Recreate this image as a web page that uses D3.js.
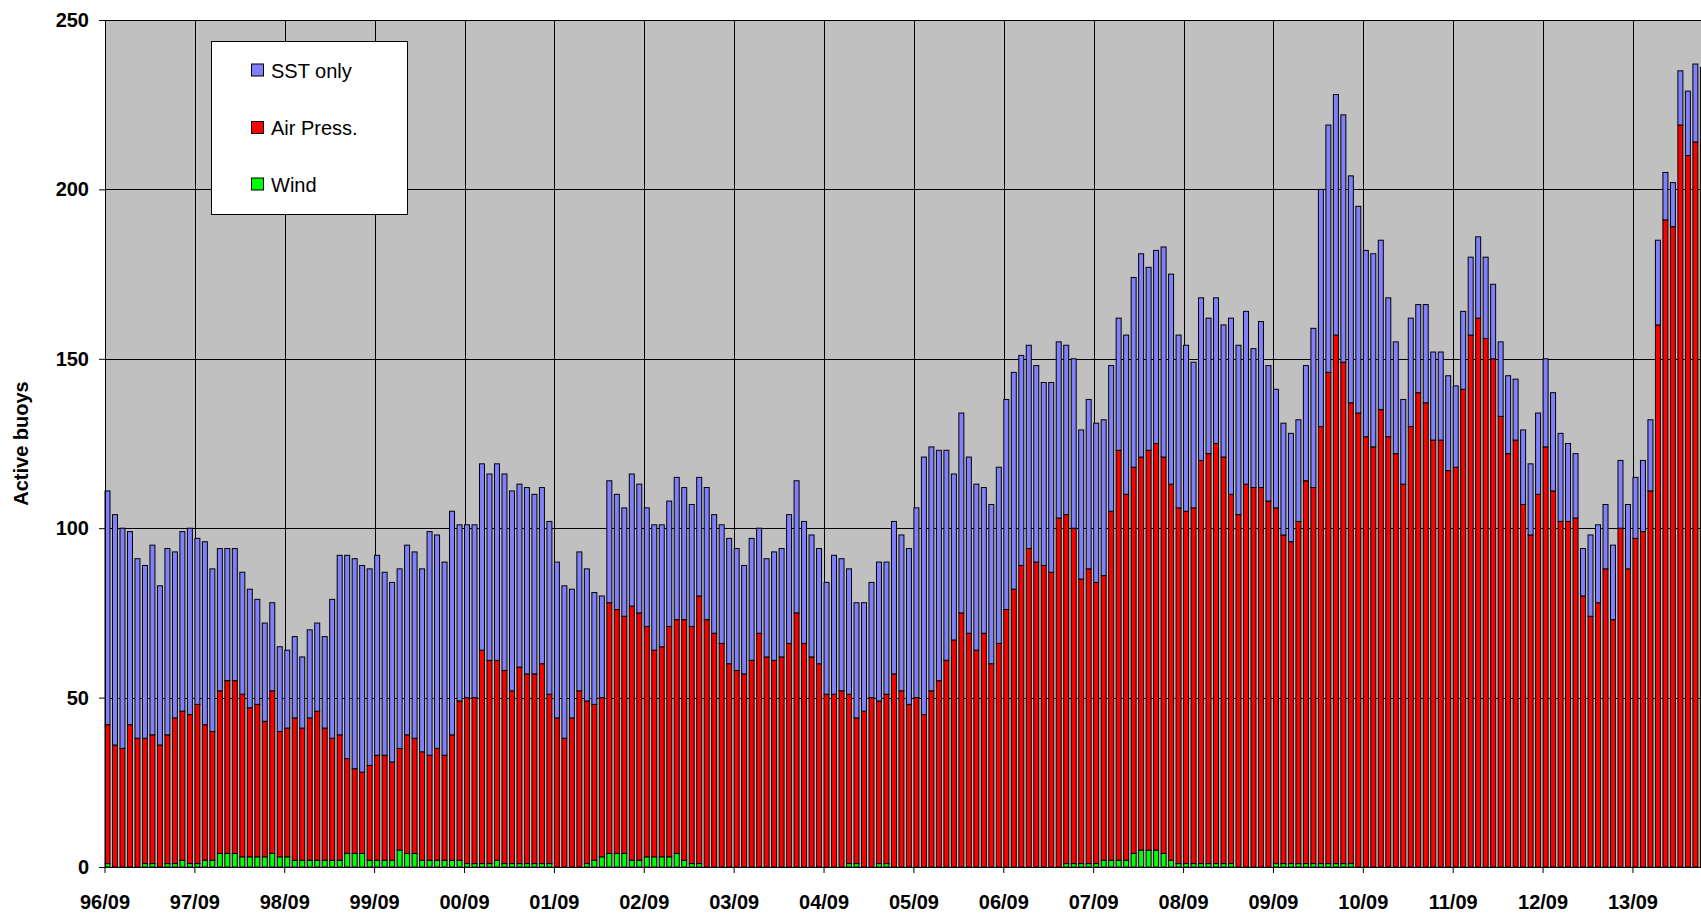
<!DOCTYPE html>
<html>
<head>
<meta charset="utf-8">
<script src="https://cdnjs.cloudflare.com/ajax/libs/d3/7.8.5/d3.min.js"></script>
<style>
  body { margin: 0; background: #fff; }
  .chart text { font-family: Arial, "Liberation Sans", sans-serif; fill: #000; }
  .axisLabel { font-weight: bold; font-size: 20px; }
</style>
</head>
<body>
<div class="chart"></div>
<script>
// Active buoys per month, 96/09 onwards

// total active buoys (top of the blue bar)
var total = [
  111,104,100,99,91,89,95,83,94,93,99,100,
  97,96,88,94,94,94,87,82,79,72,78,65,
  64,68,62,70,72,68,79,92,92,91,89,88,
  92,87,84,88,95,93,88,99,98,90,105,101,
  101,101,119,116,119,116,111,113,112,110,112,102,
  90,83,82,93,88,81,80,114,110,106,116,113,
  106,101,101,108,115,112,107,115,112,104,101,97,
  94,89,97,100,91,93,94,104,114,102,98,94,
  84,92,91,88,78,78,84,90,90,102,98,94,
  106,121,124,123,123,116,134,121,113,112,107,118,
  138,146,151,154,148,143,143,155,154,150,129,138,
  131,132,148,162,157,174,181,177,182,183,175,157,
  154,149,168,162,168,160,162,154,164,153,161,148,
  141,131,128,132,148,159,200,219,228,222,204,195,
  182,181,185,168,155,138,162,166,166,152,152,145,
  142,164,180,186,180,172,155,145,144,129,119,134,
  150,140,128,125,122,94,98,101,107,95,120,107,
  115,120,132,185,205,202,235,229,237,236
];

// buoys reporting air pressure (top of the red bar)
var pressure = [
  42,36,35,42,38,38,39,36,39,44,46,45,
  48,42,40,52,55,55,51,47,48,43,52,40,
  41,44,41,44,46,41,38,39,32,29,28,30,
  33,33,31,35,39,38,34,33,35,33,39,49,
  50,50,64,61,61,58,52,59,57,57,60,51,
  44,38,44,52,49,48,50,78,76,74,77,75,
  71,64,65,71,73,73,71,80,73,69,66,60,
  58,57,61,69,62,61,62,66,75,66,62,60,
  51,51,52,51,44,46,50,49,51,57,52,48,
  50,45,52,55,61,67,75,69,64,69,60,66,
  76,82,89,94,90,89,87,103,104,100,85,88,
  84,86,105,123,110,118,121,123,125,121,113,106,
  105,106,120,122,125,121,110,104,113,112,112,108,
  106,98,96,102,114,112,130,146,157,149,137,134,
  127,124,135,127,122,113,130,140,137,126,126,117,
  118,141,157,162,156,150,133,122,126,107,98,110,
  124,111,102,102,103,80,74,78,88,73,100,88,
  97,99,111,160,191,189,219,210,214,213
];

// buoys reporting wind (green)
var wind = [
  1,0,0,0,0,1,1,0,1,1,2,1,
  1,2,2,4,4,4,3,3,3,3,4,3,
  3,2,2,2,2,2,2,2,4,4,4,2,
  2,2,2,5,4,4,2,2,2,2,2,2,
  1,1,1,1,2,1,1,1,1,1,1,1,
  0,0,0,0,1,2,3,4,4,4,2,2,
  3,3,3,3,4,2,1,1,0,0,0,0,
  0,0,0,0,0,0,0,0,0,0,0,0,
  0,0,0,1,1,0,0,1,1,0,0,0,
  0,0,0,0,0,0,0,0,0,0,0,0,
  0,0,0,0,0,0,0,0,1,1,1,1,
  1,2,2,2,2,4,5,5,5,4,2,1,
  1,1,1,1,1,1,1,0,0,0,0,0,
  1,1,1,1,1,1,1,1,1,1,1,0,
  0,0,0,0,0,0,0,0,0,0,0,0,
  0,0,0,0,0,0,0,0,0,0,0,0,
  0,0,0,0,0,0,0,0,0,0,0,0,
  0,0,0,0,0,0,0,0,0,0
];

// month labels yy/mm
var fmt = d3.timeFormat("%y/%m");
var buoyData = total.map(function(t, i) {
  return {
    month: fmt(new Date(1996, 8 + i, 1)),
    wind: wind[i],
    air: pressure[i] - wind[i],
    sst: t - pressure[i]
  };
});

// Define SVG area dimensions
var svgWidth = 1701;
var svgHeight = 916;

var margin = {
  top: 20,
  left: 105,
  bottom: 49
};

var step = 7.49;
var width = buoyData.length * step;
var height = svgHeight - margin.top - margin.bottom;

var svg = d3.select(".chart")
  .append("svg")
  .attr("width", svgWidth)
  .attr("height", svgHeight)
  .style("display", "block");

var chartGroup = svg.append("g")
  .attr("transform", `translate(${margin.left}, ${margin.top})`);

// Scales
var xBandScale = d3.scaleBand()
  .domain(buoyData.map(d => d.month))
  .range([0, width])
  .paddingInner(1 / 3)
  .paddingOuter(1 / 6)
  .align(0);

var yLinearScale = d3.scaleLinear()
  .domain([0, 250])
  .range([height, 0]);

var septembers = buoyData.map(d => d.month).filter(m => m.slice(3) === "09");

// plot area background
chartGroup.append("rect")
  .attr("width", width)
  .attr("height", height)
  .attr("fill", "#c0c0c0");

// gridlines
chartGroup.selectAll(".hgrid")
  .data([50, 100, 150, 200, 250])
  .enter()
  .append("line")
  .attr("x1", 0)
  .attr("x2", width)
  .attr("y1", d => Math.round(yLinearScale(d)) + 0.5)
  .attr("y2", d => Math.round(yLinearScale(d)) + 0.5)
  .attr("stroke", "#000");

chartGroup.selectAll(".vgrid")
  .data(septembers)
  .enter()
  .append("line")
  .attr("x1", d => Math.round(xBandScale(d)) + 0.5)
  .attr("x2", d => Math.round(xBandScale(d)) + 0.5)
  .attr("y1", 0)
  .attr("y2", height)
  .attr("stroke", "#000");

// Stacked bars
var keys = ["wind", "air", "sst"];
var colors = { wind: "#00ff00", air: "#ff0000", sst: "#8080ff" };

var series = d3.stack().keys(keys)(buoyData);

chartGroup.selectAll(".series")
  .data(series)
  .enter()
  .append("g")
  .attr("fill", d => colors[d.key])
  .selectAll("rect")
  .data(d => d.filter(s => s[1] - s[0] > 0))
  .enter()
  .append("rect")
  .attr("x", d => xBandScale(d.data.month))
  .attr("y", d => yLinearScale(d[1]))
  .attr("width", xBandScale.bandwidth())
  .attr("height", d => yLinearScale(d[0]) - yLinearScale(d[1]))
  .attr("stroke", "#000")
  .attr("stroke-width", 1);

// Axes
var leftAxis = d3.axisLeft(yLinearScale)
  .tickValues([0, 50, 100, 150, 200, 250])
  .tickSize(6)
  .tickPadding(10);

var bottomAxis = d3.axisBottom(xBandScale)
  .tickValues(septembers)
  .tickSize(6)
  .tickPadding(22);

var yAxisGroup = chartGroup.append("g")
  .call(leftAxis);

var xAxisGroup = chartGroup.append("g")
  .attr("transform", `translate(${-xBandScale.bandwidth() / 2}, ${height})`)
  .call(bottomAxis);
xAxisGroup.select(".domain").remove();

chartGroup.append("line")
  .attr("x1", 0)
  .attr("x2", width)
  .attr("y1", height + 0.5)
  .attr("y2", height + 0.5)
  .attr("stroke", "#000");

[yAxisGroup, xAxisGroup].forEach(function(g) {
  g.selectAll("text")
    .attr("class", "axisLabel")
    .attr("font-family", null)
    .attr("font-size", null);
  g.selectAll("line, path").attr("stroke", "#000");
});

// y axis title
chartGroup.append("text")
  .attr("transform", "rotate(-90)")
  .attr("x", 0 - height / 2)
  .attr("y", 0 - 77)
  .attr("text-anchor", "middle")
  .attr("class", "axisLabel")
  .text("Active buoys");

// Legend
var legend = svg.append("g");

legend.append("rect")
  .attr("x", 211.5)
  .attr("y", 41.5)
  .attr("width", 196)
  .attr("height", 173)
  .attr("fill", "#fff")
  .attr("stroke", "#000");

var legendItems = [
  { key: "sst", label: "SST only", y: 70.5 },
  { key: "air", label: "Air Press.", y: 128 },
  { key: "wind", label: "Wind", y: 184.5 }
];

legend.selectAll(".swatch")
  .data(legendItems)
  .enter()
  .append("rect")
  .attr("x", 251.5)
  .attr("y", d => d.y - 6.5)
  .attr("width", 12)
  .attr("height", 12)
  .attr("fill", d => colors[d.key])
  .attr("stroke", "#000");

legend.selectAll(".legendText")
  .data(legendItems)
  .enter()
  .append("text")
  .attr("x", 271)
  .attr("y", d => d.y)
  .attr("dy", "0.35em")
  .style("font-size", "20px")
  .text(d => d.label);
</script>
</body>
</html>
